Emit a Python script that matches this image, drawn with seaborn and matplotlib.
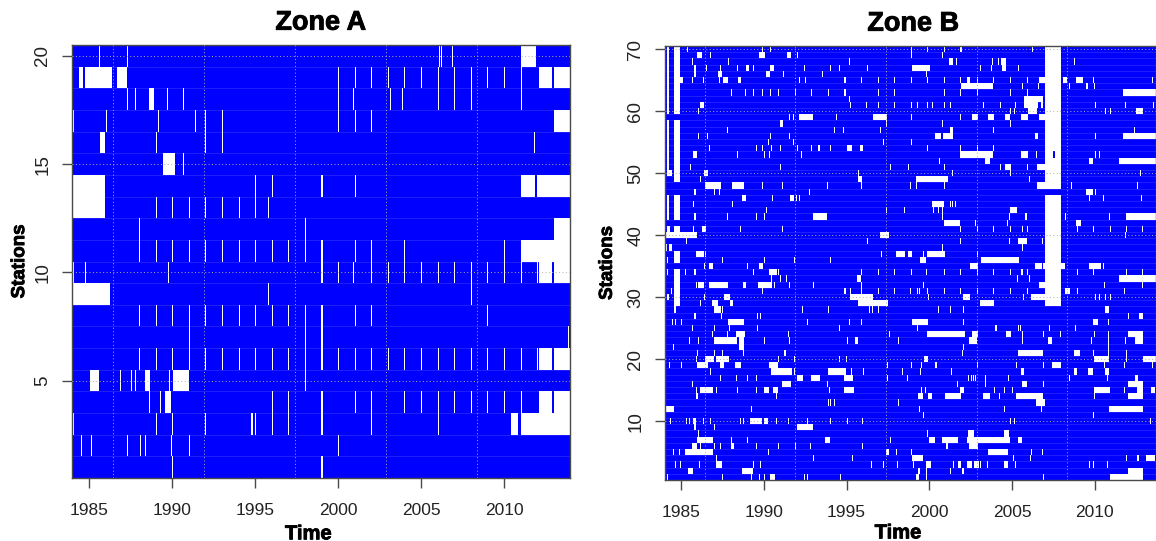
import numpy as np
import matplotlib
matplotlib.use("Agg")
import matplotlib.pyplot as plt
import matplotlib.patheffects as pe
from matplotlib.colors import ListedColormap
import seaborn as sns

# ---- gaps per station: a number is a short gap at that date, a pair is (start, end) ----
A20 = [1985.6, 1987.25, 2006.1, 2006.2, 2006.9, (2011, 2011.95)]
A19 = [(1984.4, 1984.65), (1984.75, 1986.35), (1986.7, 1987.25), 2000, 2001, 2002, 2003, 2004, 2005, 2006, 2007, 2008, 2009, 2010, 2011, (2012.1, 2012.9), (2013, 2014)]
A18 = [1987.25, 1987.75, (1988.65, 1988.85), 1989.7, 1990.65, 2000, 2000.9, 2003.15, 2003.9, 2006, 2007, 2008, 2011]
A17 = [1984.05, 1986, 1989.15, 1991.4, 1992, 1993, 2000, 2001, 2002, (2013, 2014)]
A16 = [(1985.6, 1985.95), 1989, 1992, 1993, 2011.85]
A15 = [(1989.45, 1990.2), 1990.65]
A14 = [(1984, 1985.95), 1995, 1996, 1999, 2001, (2011, 2011.9), (2012, 2014)]
A13 = [(1984, 1985.95), 1989, 1990, 1991, 1992, 1993, 1994, 1995, 1995.75]
A12 = [1988, 1998, (2013, 2014)]
A11 = [1988, 1989, 1990, 1991, 1992, 1993, 1994, 1995, 1996, 1997, 1998, 1999, 2001, 2002, 2004, 2010, (2011, 2014)]
A10 = [1984.05, 1984.8, 1989.75, 1999, 2000, 2000.9, 2002, 2003, 2004, 2005, 2006, 2007, 2008, 2009, 2010, 2011, 2012, (2012.1, 2012.9), (2013, 2014)]
A09 = [(1984, 1986.25), 1995.75, 2008]
A08 = [1988, 1989, 1990, 1991, 1992, 1993, 1994, 1995, 1996, 1997, 1998, 1999, 2001, 2002, 2009]
A07 = [1991, 1998, 1999, 2013.9]
A06 = [1988, 1989, 1990, 1991, 1992, 1993, 1994, 1995, 1996, 1997, 1998, 1999, 2000, 2001, 2002, 2003, 2004, 2005, 2006, 2007, 2008, 2009, 2010, 2011, 2012, (2012.1, 2012.9), (2013, 2014)]
A05 = [(1985.05, 1985.55), 1986.9, 1987.55, 1987.8, (1988.4, 1988.7), 1989.85, (1990.05, 1991), 1998]
A04 = [1988.65, 1989.3, (1989.55, 1989.95), 1996, 1997, 1999, 2001, 2002, 2004, 2005, 2006, 2007, 2008, 2009, 2010, 2011, (2012.1, 2012.9), (2013, 2014)]
A03 = [1984.05, 1989, 1990, 1992, (1994.75, 1994.9), 1995, 1996, 1997, 1999.05, 2002, 2006, (2010.45, 2010.85), (2011, 2014)]
A02 = [1984.55, 1985.15, 1987.25, 1988.1, 1988.4, 1989.95, 1991, 2000]
A01 = [1990, 1999]

EARLY = (1984.55, 1984.93)   # outage shared by many stations of zone B
CL = (1984.13, 1984.27)
Y07 = (2007, 2007.95)        # outage of 2007 in zone B

B70 = [CL, EARLY, Y07, 1985.4, 1989.9, 1990.4, 1998.9, 1999.9, 2000.9, (2001.85, 2001.98), 2006.2]
B69 = [1984.05, CL, EARLY, Y07, (1985.95, 1986.25), 1986.8, (1989.7, 1990.05), (1991.4, 1991.65), 1992.05, 1998.9, 2000.75]
B68 = [CL, EARLY, Y07, 1985.7, 1987.85, 1995.15, (2001.2, 2001.45), 2001.65, 2003.85, 2004.15, (2004.3, 2004.65), 2008.8]
B67 = [CL, EARLY, Y07, 1985.85, 1986.5, 1987.4, 1988.4, (1988.95, 1989.1), 1989.4, (1990.4, 1990.65), 1992.45, 1994, 1994.6, 1996.3, (1998.95, 2000.05), 2003.1, 2003.75, (2004.4, 2004.6), 2005.4]
B66 = [1984.05, CL, EARLY, Y07, 1985.85, (1987.25, 1987.5), (1990.15, 1990.35), 1991.2, 1993.55, 1999.85]
B65 = [CL, EARLY, Y07, (1984.95, 1985.15), 1985.7, 1986.35, 1987.35, (1987.55, 1987.8), (1988.45, 1988.65), 1992.15, 1992.55, 1994.9, 1995.9, 1996.9, 1997.9, 1998.9, 1999.9, 2000.9, 2001.9, (2002.25, 2002.45), 2002.9, 2003.9, 2004.9, 2005.9, (2006.65, 2007), (2008.05, 2008.3), (2008.9, 2009.3), 2009.9, 2013.45]
B64 = [CL, EARLY, Y07, (2001.95, 2003.9), 2005.65, 2006.6, 2008.45, 2009.55, 2009.95]
B63 = [CL, EARLY, Y07, 1988, 1988.9, 1989.4, 1989.9, 1990.4, 1990.9, 1991.9, 1992.9, 1993.9, 1994.9, 1996.9, 1997.9, 2000.9, 2001.9, 2002.9, 2004.9, 2005.9, (2011.7, 2013.7)]
B62 = [CL, EARLY, Y07, 1995.15, (2005.75, 2006.85)]
B61 = [CL, EARLY, Y07, (1986.15, 1986.35), 1995.2, 1996.2, 1996.9, 1997.9, 1998.9, 1999.25, 1999.9, 2000.2, 2000.9, 2001.25, 2003.25, 2004.25, 2005.2, (2005.75, 2006.55), (2006.75, 2006.85), 2010, 2011.85, 2013.5]
B60 = [CL, EARLY, Y07, 1986.05, 2004.9, 2005.15, (2005.95, 2006.5), 2010.65, 2010.95, (2012.5, 2012.95)]
B59 = [1991.55, 1991.75, (1992.15, 1993), 1994.4, (1996.6, 1997.45), 1998.9, 2001.9, (2002.55, 2002.95), (2003.55, 2003.95), (2004.55, 2004.9), (2005.55, 2005.95), (2006.6, 2007), Y07]
B58 = [CL, EARLY, Y07, (1991, 1991.2), 1997.4, 2000.8, 2004.9]
B57 = [CL, EARLY, Y07, 1987.75, 1994.25, 1994.85, 1997, (2001.25, 2001.45), 2003.9, 2012.4]
B56 = [1984.05, CL, EARLY, Y07, 1986.05, 1986.6, 1990.4, 1991.55, (2000.4, 2000.7), (2000.8, 2001.45), (2006.4, 2006.55), 2010.05, (2011.7, 2013.7)]
B55 = [CL, EARLY, Y07, 1990.3, 1991.75, 1997.2, 1998.9]
B54 = [CL, EARLY, Y07, 1986.7, 1989.5, 1989.9, 1990.45, 1991, 1992, 1992.9, (1993.25, 1993.4), 1994, (1995, 1995.3), (1995.8, 1996), 1999.9, 2001.9, 2002.9, 2003.9]
B53 = [1984.05, CL, EARLY, (1985.75, 1985.95), 1988.4, 1990.05, 1990.35, 1992.25, (2001.9, 2003.9), (2005.55, 2005.95), 2006.45, (2007, 2007.5), (2007.65, 2007.95), 2010.05, 2010.3]
B52 = [CL, EARLY, Y07, 2000.6, (2003.35, 2003.7), (2009.65, 2009.85), (2011.45, 2013.7)]
B51 = [CL, EARLY, Y07, 1985.6, 1991, 1997.65, 1998.7, 2000.9, 2004.3, (2004.55, 2004.95), 2005.9, (2006.5, 2007)]
B50 = [CL, EARLY, Y07, (1984.25, 1984.45), (1986.35, 1986.6), 1995.7, 2001.4, 2004.9, 2012.75]
B49 = [EARLY, Y07, 1986.15, (1995.7, 1995.95), (1999.2, 2001.15), 2006]
B48 = [Y07, (1986.45, 1987.45), (1988.05, 1988.8), 1989.9, 1991.15, 1993.85, 1995.9, 1998.85, 1999.2, 2000.9, (2006.5, 2007), 2008.6, 2012.6]
B47 = [1985.85, 1987, 1987.35, 1992.75, (2009.5, 2009.85), 2010]
B46 = [CL, EARLY, Y07, (1988.7, 1988.95), 1990.55, (1991.55, 1991.8), 1991.95, 1992.15, 2009.65, 2010.5, 2012.85]
B45 = [CL, EARLY, Y07, 1985.8, 1988.1, (2000.2, 2000.9), 2001.25, 2001.4, 2001.6]
B44 = [CL, EARLY, Y07, 1990.15, 1997.4, 1998.55, 2000.25, 2000.55, 2000.75, (2004.85, 2005.3)]
B43 = [CL, EARLY, Y07, 1985.85, 1987.75, 1989.55, 1990.05, (1993, 1993.8), 2000.8, 2004.85, 2005.85, 2008.2, 2010.9, (2011.85, 2013.7)]
B42 = [Y07, (2000.9, 2001.85), 2002.8, 2004.7, (2008.9, 2009.2)]
B41 = [(1984.15, 1984.3), EARLY, Y07, 1985.75, (1986.25, 1986.5), 1988.6, 1991.15, 2001.9, 2002.9, 2003.9, 2004.9, 2005.65, 2005.9, 2008.95, 2009.9, 2010.95, 2011.9, 2012.9]
B40 = [(1984, 1985.95), (1997, 1997.55), Y07, 2011.85]
B39 = [Y07, 1985.35, 1996.3, 2001.9, 2004.85, (2005.4, 2005.85), 2006.85]
B38 = [Y07, (1984, 1984.1), (1984.25, 1984.45), 2000.75, 2005.65]
B37 = [EARLY, Y07, (1985.85, 1986.35), 1986.45, 1997.1, (1998, 1998.55), (1998.7, 1998.95), 1999.65, (1999.9, 2000.95), 2002.9]
B36 = [EARLY, Y07, 1984.15, 1987.5, 1990.05, 1991.85, 1994, (1999.45, 1999.8), (2003.15, 2005.45)]
B35 = [1986.4, (1986.7, 1986.95), 1989, (1989.7, 1989.95), (2002.45, 2002.95), (2006.35, 2006.8), (2006.9, 2008.2), (2009.65, 2010.35), 2010.5]
B34 = [EARLY, Y07, 1984.15, 1985.25, 1985.85, 1989.4, (1990.3, 1990.8), 1990.9, 1995.9, 1996.9, 1997.9, 1998.9, 1999.85, 2000.9, 2001.9, 2002.9, 2003.9, 2004.9, (2005.55, 2005.7), 2005.9, 2008.95, 2009.9, 2011.9, 2012.9]
B33 = [EARLY, Y07, 1984.05, 1990.45, 1991.05, 1991.35, (1995.6, 1995.9), 2005.35, 2006, (2011.45, 2013.7)]
B32 = [EARLY, Y07, 1985.9, (1986, 1986.35), (1986.7, 1987.8), (1988.75, 1988.95), (1989.65, 1990.5), 1990.65, 1991.55, 1993.05, 1995.9, 1999.65, (2006.65, 2007), 2010.6, 2012.9]
B31 = [EARLY, Y07, 1984.4, 1989.9, 1994.9, 1995.2, 1995.9, 1996.9, 1997.9, 1998.85, 1999.25, 1999.4, 1999.9, 2000.9, 2001.9, 2002.9, 2003.9, 2004.9, 2005.9, (2008.2, 2008.5), 2008.95, 2011.8]
B30 = [CL, EARLY, Y07, 1986.4, (1987.65, 1987.95), (1995.2, 1996.6), 1999.95, (2002.05, 2002.45), 2005.7, (2006.1, 2007), 2010, 2010.3, 2010.65, 2010.95]
B29 = [EARLY, Y07, 1986.15, (1986.9, 1987.25), (1987.95, 1988.15), (1995.7, 1997.5), (2003.05, 2003.95)]
B28 = [(1984.55, 1984.7), (1987, 1987.45), 1987.5, 1992.35, 1993.9, 1996.4, 1996.6, 1996.9, 2000.55, 2001.3, 2002.1, (2010.6, 2010.85)]
B27 = [1985.85, 1987.45, 1989.6, 1989.8, 2012.05, (2012.7, 2012.95)]
B26 = [1984.45, 1984.65, 1985, (1987.8, 1988.8), 1992.65, 1995.15, 1995.9, (1998.95, 1999.95), 2002.1, (2009.9, 2010.2), 2010.85]
B25 = [1985.7, 1987.05, 1987.9, 1989.6, 1994.6, 1999.25, 2004, 2005.4, 2005.55, 2007.25, 2008.85]
B24 = [1986.9, 1987.75, (1988.3, 1988.85), 1991.45, 1997.6, (1999.9, 2002.2), (2002.55, 2002.95), (2004.6, 2004.95), 2005.65, 2006.9, 2007.9, 2009.95, 2010.85, (2012, 2012.95)]
B23 = [1985.55, 1986.05, (1987, 1988.4), (1988.5, 1988.8), 1990, 1991.55, 1995.05, (1995.5, 1995.7), 1998.15, (2002.4, 2002.85), 2005.65, (2007.2, 2007.45), 2009.75, 2010.85, 2011.85, (2012.45, 2012.95)]
B22 = [1984.55, (1988.5, 1988.8), 2002.1, 2010.85]
B21 = [1985.95, 1987, 1987.5, 1988.8, 1991.25, 2002.05, (2005.35, 2006.9), (2008.75, 2009.1), 2009.9, 2010.85, 2011.9]
B20 = [1985.9, (1986.45, 1987), (1987.1, 1987.85), 1990.9, 1991.85, 1994.6, 1994.95, (1999.7, 1999.95), (2009.95, 2010.85), 2011.9, (2012.95, 2013.7)]
B19 = [1984.3, 1985, (1985.95, 1986.6), (1987.35, 1987.6), (1988.25, 1988.65), (1990.3, 1990.85), 1997.45, 1998.9, 1999.5, 2000.4, 2002.9, 2005.3, 2006.9, (2007.45, 2007.95), 2010.6, 2011.8, 2013.45]
B18 = [1986.8, (1990.45, 1991.7), 1991.85, (1993.9, 1994.95), 1995.3, 1996, 1998.4, 1999.45, 2001.35, (2005.55, 2005.75), (2008.75, 2008.95), (2009.55, 2009.9), (2010.65, 2010.85)]
B17 = [1987.4, 1988.35, 1989, 1989.55, (1992, 1992.35), (1992.9, 1993.4), (1994.9, 1995.4), 1997.45, 1998.65, 2002.35, 2002.5, 2002.65, 2002.8, 2003.4, 2004.75, 2008.45, 2010.75, (2012.45, 2012.6)]
B16 = [1985.7, (1991.15, 1991.6), 1993.85, 2001.7, 2003.4, (2005.65, 2005.85), 2006.9, (2012, 2012.95)]
B15 = [1985.9, (1986.15, 1986.95), 1987.15, 1988.4, 1989.5, (1990, 1990.3), (1990.55, 1990.9), 1993.95, (1994.9, 1995.45), 1999.5, 1999.8, (2001.9, 2002.1), 2003.95, 2004.55, 2005, (2009.95, 2010.95), 2011.75, (2012.55, 2012.95), (2013.4, 2013.6)]
B14 = [(1985.85, 1986), 1990.75, (1999.3, 1999.6), (1999.95, 2000.2), (2000.95, 2001.95), (2003.25, 2003.7), 2004.2, (2005.25, 2006.85), 2009.95, (2012, 2012.95)]
B13 = [1993.9, 1994.05, 1994.25, 1998.15, (2006.45, 2007)]
B12 = [(1984, 1984.55), 1989.3, 1999.4, 2004.55, 2006.75, (2010.9, 2012.95)]
B11 = [1999.65, 2009.9]
B10 = [1984.35, 1985.35, 1985.5, (1985.75, 1985.9), 1986.35, 1986.8, 1988.6, 1988.8, (1989.2, 1989.85), (1990, 1990.25), 1990.8, 1991.45, 1992.65, 1994, 1995.05, 1995.95, 2004.9, 2005.15, 2013.35]
B09 = [1985.85, 1987, (1992, 1993)]
B08 = [1986.05, 1999.9, (2002.3, 2002.7), (2004.5, 2004.8)]
B07 = [(1985.95, 1986.95), 1988.05, 1989.05, (1993.7, 1994), 1997.65, (2000, 2000.4), (2000.75, 2001.75), (2002.25, 2004.85), (2005.35, 2005.6)]
B06 = [(1985.7, 1985.95), 1986.15, 1987, 1987.4, (1988, 1988.2), 1989.55, 1990.9, 1991.9, 1992.85, 1995.95, (2001, 2001.15), (2002.4, 2002.95)]
B05 = [1984.55, 1984.9, (1985.25, 1986.95), 1990.25, (1997.4, 1997.55), 1998, 1998.9, (2003.55, 2004.75), 2006.15, 2006.85]
B04 = [1987.15, 1993.05, 1995.35, (1998.95, 1999.6), 2005.1, 2006.1, 2011.9, (2012.55, 2012.7), (2013.1, 2013.6)]
B03 = [1984, 1984.65, 1984.95, 1986.1, (1987.15, 1987.5), 1989.4, 1989.75, 1996.55, 1997.2, 1998.1, 1999, (1999.8, 2000.15), 2001.45, (2001.75, 2001.95), (2002.25, 2002.55), (2002.7, 2003), 2003.1, 2003.5, (2004.5, 2004.75), 2005.2, 2009.65, 2009.9, 2010.8]
B02 = [(1985.45, 1985.75), (1988.7, 1989.35), (1999.3, 1999.45), 1999.85, 2001.3, (2002, 2002.15), (2012, 2012.95)]
B01 = [1984.05, 1984.15, 1987.5, 1989.25, 1989.7, 1990.05, (1990.4, 1990.7), 1992.45, 1992.65, 1994.65, (1999.2, 1999.4), 1999.85, 2006.9, (2010.95, 2012.95)]

ZONE_A = [A20, A19, A18, A17, A16, A15, A14, A13, A12, A11, A10, A09, A08, A07, A06, A05, A04, A03, A02, A01]
ZONE_B = [B70, B69, B68, B67, B66, B65, B64, B63, B62, B61, B60, B59, B58, B57, B56, B55, B54, B53, B52, B51,
          B50, B49, B48, B47, B46, B45, B44, B43, B42, B41, B40, B39, B38, B37, B36, B35, B34, B33, B32, B31,
          B30, B29, B28, B27, B26, B25, B24, B23, B22, B21, B20, B19, B18, B17, B16, B15, B14, B13, B12, B11,
          B10, B09, B08, B07, B06, B05, B04, B03, B02, B01]

YEAR_TICKS = [1985, 1990, 1995, 2000, 2005, 2010]
GRID_YEARS = [1986.42, 1991.9, 1997.4, 2002.86, 2008.35]
A_STATION_TICKS = [5, 10, 15, 20]
B_STATION_TICKS = [10, 20, 30, 40, 50, 60, 70]

START, STOP, PER_YEAR = 1983.875, 2014.125, 16
GREY = "#4a4a4a"
W, H = 1156, 541

sns.set_theme(style="white")
plt.rcParams["font.family"] = ["Liberation Sans", "DejaVu Sans"]


def to_col(year):
    return (year - START) * PER_YEAR


def availability(gaps):
    mat = np.zeros((len(gaps), int(round((STOP - START) * PER_YEAR))))
    for row, station in enumerate(gaps):
        for g in station:
            if isinstance(g, tuple):
                mat[row, int(round(to_col(g[0]))):int(round(to_col(g[1])))] = 1
            else:
                mat[row, int(to_col(g))] = 1
    return mat


def panel(box, gaps, title, yticks, xlim, ylabel_x, title_x, xlabel_y):
    l, r, t, b = box
    ax = fig.add_axes([l / W, 1 - b / H, (r - l) / W, (b - t) / H])
    mat = availability(gaps)
    # blue background of recorded data
    sns.heatmap(np.zeros_like(mat), ax=ax, cmap=ListedColormap(["#0000ff"]),
                vmin=0, vmax=1, cbar=False, xticklabels=False, yticklabels=False)
    n = len(gaps)
    for y in range(1, n):
        ax.axhline(y, color="#2b2bff", lw=0.5, zorder=2)
    # white gaps on top of the row separators
    sns.heatmap(mat, mask=mat == 0, ax=ax, cmap=ListedColormap(["#ffffff"]),
                vmin=0, vmax=1, cbar=False, xticklabels=False, yticklabels=False, zorder=2.5)
    for yr in GRID_YEARS:
        ax.axvline(to_col(yr), color="#b0b0b0", lw=0.7, ls=(0, (1, 2.5)), zorder=3)
    for s in yticks:
        ax.axhline(n - s + 0.5, color="#b0b0b0", lw=0.7, ls=(0, (1, 2.5)), zorder=3)
    ax.set_xlim(to_col(xlim[0]), to_col(xlim[1]))
    ax.set_xticks([to_col(y) for y in YEAR_TICKS])
    ax.set_xticklabels([str(y) for y in YEAR_TICKS], fontsize=12.5, color="#222222")
    ax.set_yticks([n - s + 0.5 for s in yticks])
    ax.set_yticklabels([str(s) for s in yticks], fontsize=13.5, color="#222222",
                       rotation=90, va="center")
    ax.tick_params(axis="x", bottom=True, length=7.5, width=1, color=GREY, pad=10.5)
    ax.tick_params(axis="y", left=True, length=7.5, width=1, color=GREY, pad=7)
    for side in ax.spines.values():
        side.set_visible(True)
        side.set_color(GREY)
        side.set_linewidth(1)
    stroke = [pe.withStroke(linewidth=0.6, foreground="black")]
    ax.set_title(title, fontsize=19.5, fontweight="bold", color="black", pad=11,
                 x=title_x, path_effects=stroke)
    ax.set_xlabel("Time", fontsize=14.5, fontweight="bold", color="black", path_effects=stroke)
    ax.set_ylabel("Stations", fontsize=13.5, fontweight="bold", color="black", path_effects=stroke)
    ax.xaxis.set_label_coords(0.475, xlabel_y)
    ax.yaxis.set_label_coords(ylabel_x, 0.5)
    return ax


fig = plt.figure(figsize=(W / 100, H / 100), dpi=100)
panel((71.5, 570, 45, 478), ZONE_A, "Zone A", A_STATION_TICKS, (1983.93, 2013.98), -0.087, 0.5, -0.107)
panel((664.5, 1156, 46, 480), ZONE_B, "Zone B", B_STATION_TICKS, (1984.0, 2013.7), -0.099, 0.506, -0.1)
fig.savefig("out.png", dpi=100, facecolor="white")
